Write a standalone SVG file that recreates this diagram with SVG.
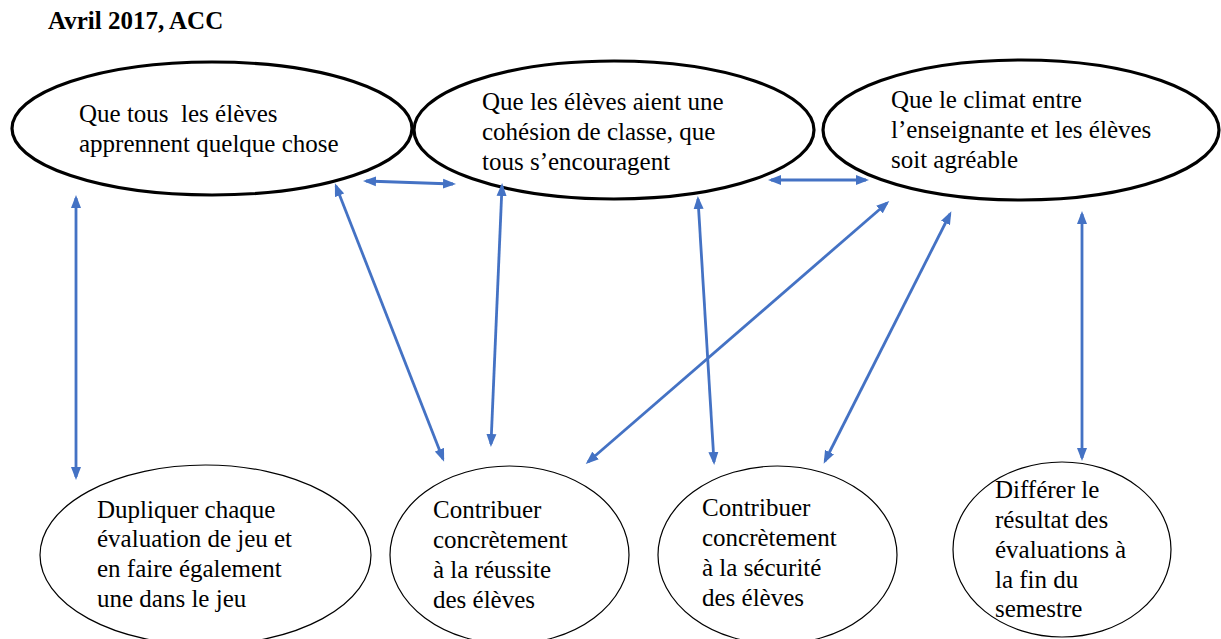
<svg xmlns="http://www.w3.org/2000/svg" width="1221" height="639" viewBox="0 0 1221 639">
<style>
text{font-family:"Liberation Serif","Times New Roman",serif;font-size:25px;fill:#000;white-space:pre}
.title{font-weight:bold;font-size:25px}
.top{fill:#fff;stroke:#000;stroke-width:3.2}
.bot{fill:#fff;stroke:#000;stroke-width:1.2}
.conn line{stroke:#4472C4;stroke-width:2.8;marker-start:url(#ah);marker-end:url(#ah)}
</style>
<defs>
<marker id="ah" markerUnits="userSpaceOnUse" markerWidth="13" markerHeight="11" viewBox="0 0 13 11" refX="10" refY="5.5" orient="auto-start-reverse">
<path d="M0,0.5 L13,5.5 L0,10.5 Z" fill="#4472C4"/>
</marker>
</defs>
<rect width="1221" height="639" fill="#fff"/>
<text class="title" x="48" y="29">Avril 2017, ACC</text>

<g id="n1">
<ellipse class="top" cx="212" cy="128.5" rx="200" ry="66.5"/>
<text x="79" y="122">Que tous  les élèves</text>
<text x="79" y="152">apprennent quelque chose</text>
</g>
<g id="n2">
<ellipse class="top" cx="614" cy="130" rx="200" ry="69"/>
<text x="482" y="110">Que les élèves aient une</text>
<text x="482" y="140">cohésion de classe, que</text>
<text x="482" y="170">tous s’encouragent</text>
</g>
<g id="n3">
<ellipse class="top" cx="1021" cy="130" rx="198" ry="70"/>
<text x="891" y="108">Que le climat entre</text>
<text x="891" y="138">l’enseignante et les élèves</text>
<text x="891" y="168">soit agréable</text>
</g>
<g id="n4">
<ellipse class="bot" cx="205.5" cy="555" rx="165.5" ry="90"/>
<text x="97" y="518">Dupliquer chaque</text>
<text x="97" y="547">évaluation de jeu et</text>
<text x="97" y="577">en faire également</text>
<text x="97" y="607">une dans le jeu</text>
</g>
<g id="n5">
<ellipse class="bot" cx="509.5" cy="555" rx="119.5" ry="89"/>
<text x="433" y="518">Contribuer</text>
<text x="433" y="548">concrètement</text>
<text x="433" y="578">à la réussite</text>
<text x="433" y="608">des élèves</text>
</g>
<g id="n6">
<ellipse class="bot" cx="777.5" cy="555" rx="119.5" ry="89"/>
<text x="702" y="516">Contribuer</text>
<text x="702" y="546">concrètement</text>
<text x="702" y="576">à la sécurité</text>
<text x="702" y="606">des élèves</text>
</g>
<g id="n7">
<ellipse class="bot" cx="1062" cy="549.5" rx="109" ry="87.5"/>
<text x="995" y="498">Différer le</text>
<text x="995" y="528">résultat des</text>
<text x="995" y="558">évaluations à</text>
<text x="995" y="588">la fin du</text>
<text x="995" y="617">semestre</text>
</g>

<g id="connectors" class="conn">
<line x1="76" y1="198" x2="76" y2="477"/>
<line x1="336" y1="186" x2="443" y2="459"/>
<line x1="366" y1="181" x2="453" y2="184"/>
<line x1="502" y1="186" x2="491" y2="444"/>
<line x1="771" y1="180" x2="866" y2="180"/>
<line x1="887" y1="203" x2="588" y2="462"/>
<line x1="698" y1="199" x2="714" y2="462"/>
<line x1="950" y1="214" x2="825" y2="461"/>
<line x1="1082" y1="214" x2="1082" y2="458"/>
</g>
</svg>
